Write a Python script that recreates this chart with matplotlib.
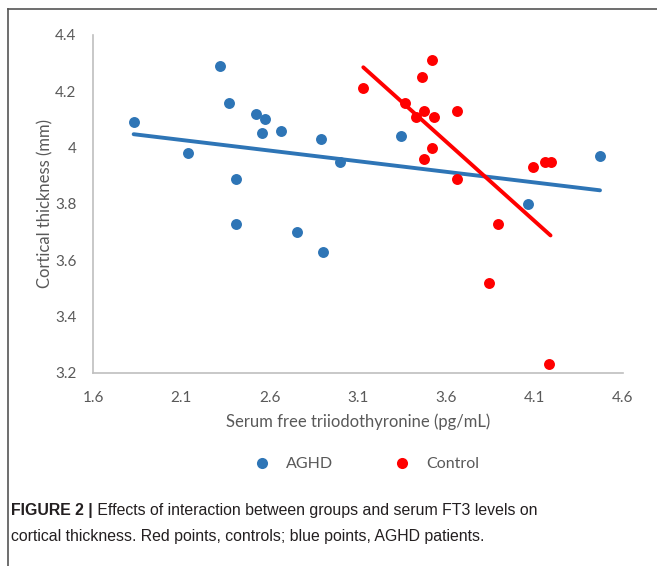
import numpy as np
import matplotlib
matplotlib.use("Agg")
import matplotlib.pyplot as plt
from matplotlib.lines import Line2D

# AGHD patients (blue)
aghd_ft3 = [1.83, 2.14, 2.32, 2.37, 2.52, 2.575, 2.555, 2.665, 2.89, 2.41, 2.41,
            2.755, 2.90, 3.00, 3.345, 4.06, 4.47]
aghd_ct = [4.09, 3.98, 4.29, 4.16, 4.12, 4.10, 4.05, 4.06, 4.03, 3.89, 3.73,
           3.70, 3.63, 3.95, 4.04, 3.80, 3.97]

# controls (red)
ctrl_ft3 = [3.13, 3.52, 3.46, 3.365, 3.475, 3.43, 3.53, 3.66, 3.52, 3.475, 3.66,
            4.09, 4.16, 4.19, 3.89, 3.84, 4.18]
ctrl_ct = [4.21, 4.31, 4.25, 4.16, 4.13, 4.11, 4.11, 4.13, 4.00, 3.96, 3.89,
           3.93, 3.95, 3.95, 3.73, 3.52, 3.23]

x_ticks = [1.6, 2.1, 2.6, 3.1, 3.6, 4.1, 4.6]
y_ticks = [3.2, 3.4, 3.6, 3.8, 4.0, 4.2, 4.4]
y_tick_labels = ["3.2", "3.4", "3.6", "3.8", "4", "4.2", "4.4"]

BLUE = "#2e75b6"
RED = "#ff0000"
GREY_TXT = "#595959"

plt.rcParams["font.family"] = ["Lato", "DejaVu Sans"]

fig = plt.figure(figsize=(6.57, 5.66), dpi=100)
ax = fig.add_axes([0.1416, 0.3415, 0.8066, 0.5967])

ax.scatter(aghd_ft3, aghd_ct, s=62, color=BLUE, zorder=3, linewidths=0)
ax.scatter(ctrl_ft3, ctrl_ct, s=62, color=RED, zorder=3, linewidths=0)

# linear trend lines (least squares), drawn over each group's x range
for xs, ys, col in [(aghd_ft3, aghd_ct, BLUE), (ctrl_ft3, ctrl_ct, RED)]:
    k, b = np.polyfit(xs, ys, 1)
    xx = np.array([min(xs), max(xs)])
    ax.plot(xx, k * xx + b, color=col, lw=2.8, solid_capstyle="round", zorder=2)

ax.set_xlim(1.6, 4.6)
ax.set_ylim(3.2, 4.4)
ax.set_xticks(x_ticks)
ax.set_xticklabels([str(v) for v in x_ticks])
ax.set_yticks(y_ticks)
ax.set_yticklabels(y_tick_labels)
ax.tick_params(axis="both", length=0, labelsize=11, colors=GREY_TXT)
ax.tick_params(axis="x", pad=13)
ax.tick_params(axis="y", pad=12)

for side in ["top", "right"]:
    ax.spines[side].set_visible(False)
for side in ["left", "bottom"]:
    ax.spines[side].set_color("#bfbfbf")
    ax.spines[side].set_linewidth(1.2)

ax.set_xlabel("Serum free triiodothyronine (pg/mL)", fontsize=12, color=GREY_TXT, labelpad=6)
ax.set_ylabel("Cortical thickness (mm)", fontsize=12, color=GREY_TXT, labelpad=1)

handles = [Line2D([], [], ls="", marker="o", ms=8, color=BLUE, mec="none"),
           Line2D([], [], ls="", marker="o", ms=8, color=RED, mec="none")]
leg = fig.legend(handles, ["AGHD", "Control"], loc="center", bbox_to_anchor=(0.552, 0.18),
                 ncol=2, frameon=False, fontsize=11.5, columnspacing=3.35, handletextpad=0.5)
for t in leg.get_texts():
    t.set_color(GREY_TXT)

# frame lines around the chart (top and left only)
fig.add_artist(Line2D([8 / 657, 1], [1 - 9 / 566] * 2, transform=fig.transFigure, color="#555555", lw=1.2))
fig.add_artist(Line2D([8 / 657] * 2, [0, 1 - 9 / 566], transform=fig.transFigure, color="#555555", lw=1.2))

cap_font = ["Liberation Sans", "DejaVu Sans"]
cap_size = 11.4
t1 = fig.text(11 / 657, 1 - 510 / 566, "FIGURE 2 |", fontsize=cap_size, fontweight="bold",
              family=cap_font, color="#231f20", va="center")
ax.annotate(" Effects of interaction between groups and serum FT3 levels on",
            xy=(1, 0), xycoords=t1, va="bottom", fontsize=cap_size, family=cap_font, color="#231f20")
fig.text(11 / 657, 1 - 537 / 566, "cortical thickness. Red points, controls; blue points, AGHD patients.",
         fontsize=cap_size, family=cap_font, color="#231f20", va="center")

fig.savefig("out.png", dpi=100)
